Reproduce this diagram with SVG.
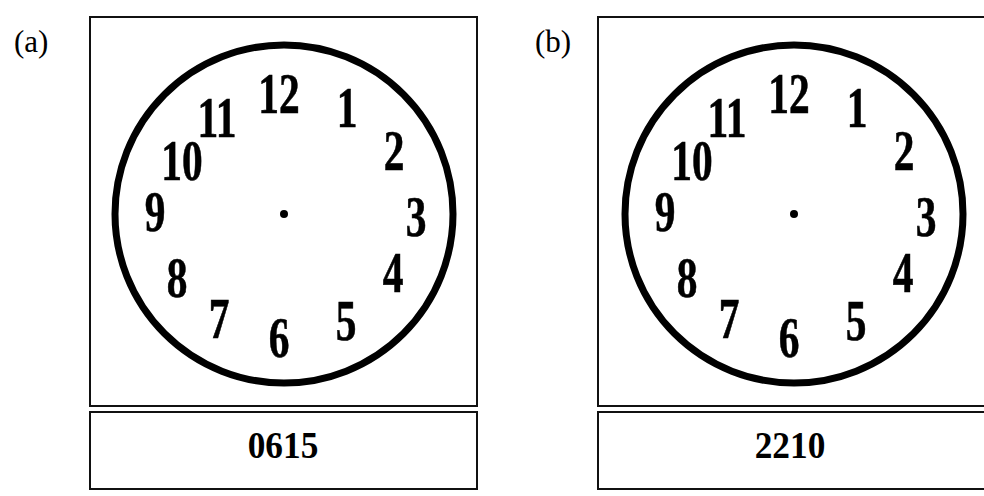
<svg xmlns="http://www.w3.org/2000/svg" width="984" height="496" viewBox="0 0 984 496">
<style>
.frame{fill:none;stroke:#111;stroke-width:2}
.dial{fill:none;stroke:#000;stroke-width:7}
.num{font-family:"Liberation Serif","Times New Roman",serif;font-weight:bold;font-size:56px;text-anchor:middle;fill:#000;stroke:#000;stroke-width:0.6}
.lbl{font-family:"Liberation Serif","Times New Roman",serif;font-size:31px;fill:#000}
.time{font-family:"Liberation Serif","Times New Roman",serif;font-weight:bold;font-size:38px;text-anchor:middle;fill:#000}
</style>
<defs>
<g id="face">
<circle class="dial" cx="0" cy="0" r="169"/>
<circle cx="0" cy="0" r="4" fill="#000"/>
<text class="num" transform="translate(-5,-101) scale(0.74,1)">12</text>
<text class="num" transform="translate(63,-87) scale(0.74,1)">1</text>
<text class="num" transform="translate(110,-44) scale(0.74,1)">2</text>
<text class="num" transform="translate(132,22) scale(0.74,1)">3</text>
<text class="num" transform="translate(109,78) scale(0.74,1)">4</text>
<text class="num" transform="translate(62,126) scale(0.74,1)">5</text>
<text class="num" transform="translate(-5,143) scale(0.74,1)">6</text>
<text class="num" transform="translate(-65,124) scale(0.74,1)">7</text>
<text class="num" transform="translate(-107,83) scale(0.74,1)">8</text>
<text class="num" transform="translate(-129,17) scale(0.74,1)">9</text>
<text class="num" transform="translate(-102,-34) scale(0.74,1)">10</text>
<text class="num" transform="translate(-67,-77) scale(0.74,1)">11</text>
</g>
</defs>
<g id="label-a"><text class="lbl" x="14" y="52">(a)</text></g>
<g id="label-b"><text class="lbl" x="535" y="52">(b)</text></g>
<g id="clock-a">
<rect class="frame" x="90" y="17" width="387" height="389"/>
<use href="#face" x="284" y="214"/>
</g>
<g id="time-a">
<rect class="frame" x="90" y="412" width="387" height="77"/>
<text class="time" transform="translate(283,458) scale(0.93,1)">0615</text>
</g>
<g id="clock-b">
<rect class="frame" x="598" y="17" width="400" height="389"/>
<use href="#face" x="794" y="214"/>
</g>
<g id="time-b">
<rect class="frame" x="598" y="412" width="400" height="77"/>
<text class="time" transform="translate(790,458) scale(0.93,1)">2210</text>
</g>
<g id="connectors"/>
</svg>
